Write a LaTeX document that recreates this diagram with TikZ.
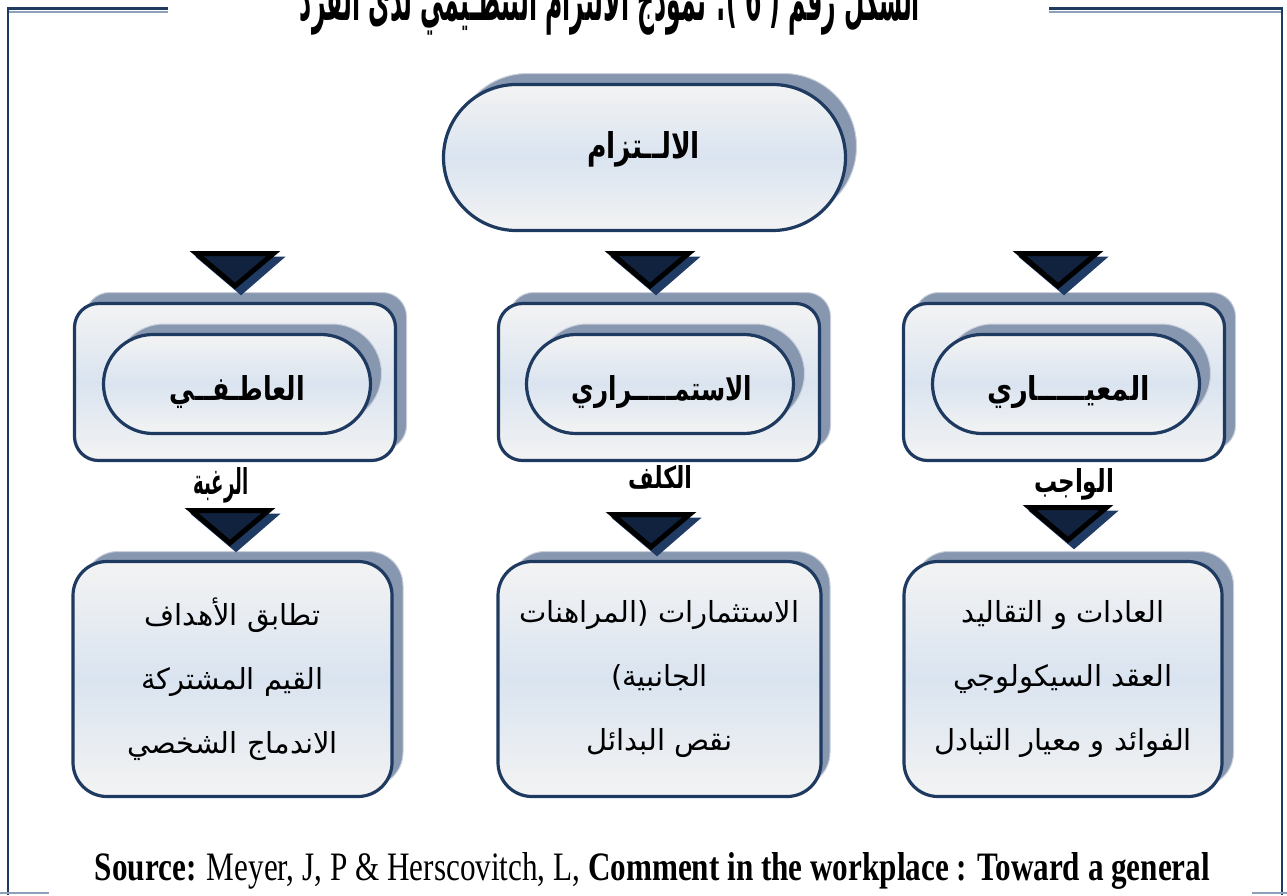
\documentclass[tikz,border=0pt]{standalone}
\usepackage{fontspec}
\setmainfont{Liberation Serif}
\newfontfamily\arabicfont[Script=Arabic]{DejaVu Sans}
\TeXXeTstate=1
\usetikzlibrary{shapes.misc}

\definecolor{navy}{HTML}{1F3A60}
\definecolor{slate}{HTML}{8797B0}
\definecolor{fillmid}{HTML}{DAE4F0}
\definecolor{fillend}{HTML}{F3F3F3}
\definecolor{tridark}{HTML}{10223E}
\definecolor{trishade}{HTML}{1F3B63}
\definecolor{framelight}{HTML}{8EA0B9}

% right-to-left Arabic run
\newcommand\artext[1]{{\arabicfont\beginR #1\endR}}
% bold Arabic run fitted to a given width and height
\newcommand\arfit[3]{\resizebox{#1}{#2}{\arabicfont\bfseries\beginR #3\endR}}

\begin{document}
\begin{tikzpicture}[x=1pt,y=-1pt,
  panel/.style={draw=navy, line width=3.2pt, top color=fillend,
    bottom color=fillend, middle color=fillmid, inner sep=0pt, outer sep=0pt},
  backing/.style={fill=slate, draw=slate!45, line width=1pt,
    inner sep=0pt, outer sep=0pt},
  pill/.style={rounded rectangle, minimum width=#1},
  card/.style={rectangle, rounded corners=#1},
  bodytext/.style={font=\fontsize{29}{64}\selectfont, align=center},
  flowtri/.pic={
    \filldraw[fill=trishade, draw=trishade, line width=5pt, line join=miter]
      (-33,8) -- (44,8) -- (6,41) -- cycle;
    \filldraw[fill=tridark, draw=black, line width=5pt, line join=miter]
      (-38.5,2.5) -- (38.5,2.5) -- (0,35) -- cycle;
  }
]
\useasboundingbox (0,0) rectangle (1287,895);

% page frame
\draw[navy, line width=2.5pt] (8,7) -- (8,895);
\draw[navy, line width=2.5pt] (1282,7) -- (1282,895);
\draw[navy, line width=3pt] (7,8) -- (168,8);
\draw[navy, line width=3pt] (1049,8) -- (1283,8);
\draw[framelight, line width=1.5pt] (9,12) -- (168,12);
\draw[framelight, line width=1.5pt] (1049,12) -- (1281,12);
\draw[framelight, line width=2pt] (0,893) -- (49,893);
\draw[framelight, line width=2pt] (1252,893) -- (1287,893);

% caption (runs off the top edge)
\node[anchor=base, inner sep=0pt] (caption) at (610,20)
  {\resizebox{620pt}{46pt}{\arabicfont\bfseries\beginR الشكل رقم ( 6 ): نموذج الالتزام التنظـيمي لدى الفرد\endR}};

% root
\node[backing, pill=402pt, minimum height=146pt] (rootbk) at (655.5,146.5) {};
\node[panel, pill=402pt, minimum height=146pt] (root) at (644.5,157.5) {};
\node[anchor=base, inner sep=0pt] (rootlabel) at (643.5,158)
  {\arfit{113pt}{27pt}{الالــتزام}};

% three commitment types
\foreach \n/\cx in {aff/235, cont/659, norm/1064}{
  \node[backing, card=24pt, minimum width=321pt, minimum height=157pt] (\n bk) at (\cx+11,371) {};
  \node[panel, card=24pt, minimum width=321pt, minimum height=157pt] (\n) at (\cx,382) {};
}
\foreach \n/\cx in {aff/237, cont/660, norm/1066}{
  \node[backing, pill=267pt, minimum height=99pt] (\n pbk) at (\cx+11,373.5) {};
  \node[panel, pill=267pt, minimum height=99pt] (\n pill) at (\cx,384) {};
}
\node[anchor=base, inner sep=0pt] (afflabel) at (237.5,400) {\arfit{135pt}{25pt}{العاطـفــي}};
\node[anchor=base, inner sep=0pt] (contlabel) at (662,400) {\arfit{180pt}{25pt}{الاستمـــــراري}};
\node[anchor=base, inner sep=0pt] (normlabel) at (1068.5,400) {\arfit{163pt}{25pt}{المعيـــــاري}};

% bases
\node[anchor=base, inner sep=0pt] (affbase) at (221,494) {\arfit{55pt}{27pt}{الرغبة}};
\node[anchor=base, inner sep=0pt] (contbase) at (660,488) {\arfit{64pt}{23pt}{الكلف}};
\node[anchor=base, inner sep=0pt] (normbase) at (1074,492) {\arfit{80pt}{24pt}{الواجب}};

% contents
\foreach \n/\cx in {affc/232.5, contc/659.5, normc/1063}{
  \node[backing, card=34pt, minimum width=319pt, minimum height=235pt] (\n bk) at (\cx+11,669) {};
}
\node[panel, card=34pt, minimum width=319pt, minimum height=235pt, bodytext] (affc) at (232.5,679)
  {\artext{تطابق الأهداف}\\\artext{القيم المشتركة}\\\artext{الاندماج الشخصي}};
\node[panel, card=34pt, minimum width=323pt, minimum height=235pt, bodytext] (contc) at (659.5,679)
  {\artext{الاستثمارات (المراهنات}\\\artext{الجانبية)}\\\artext{نقص البدائل}};
\node[panel, card=34pt, minimum width=318pt, minimum height=235pt, bodytext] (normc) at (1063,679)
  {\artext{العادات و التقاليد}\\\artext{العقد السيكولوجي}\\\artext{الفوائد و معيار التبادل}};

% arrow heads
\pic (t1) at (235,251) {flowtri};
\pic (t2) at (650,251) {flowtri};
\pic (t3) at (1058,251) {flowtri};
\pic (t4) at (230,508) {flowtri};
\pic (t5) at (651,512) {flowtri};
\pic (t6) at (1068,505) {flowtri};

% reference line
\node[anchor=base] (source) at (652.5,880)
  {\resizebox{1115pt}{28pt}{\textbf{Source:} Meyer, J, P \& Herscovitch, L, \textbf{Comment in the workplace : Toward a general}}};
\end{tikzpicture}
\end{document}
